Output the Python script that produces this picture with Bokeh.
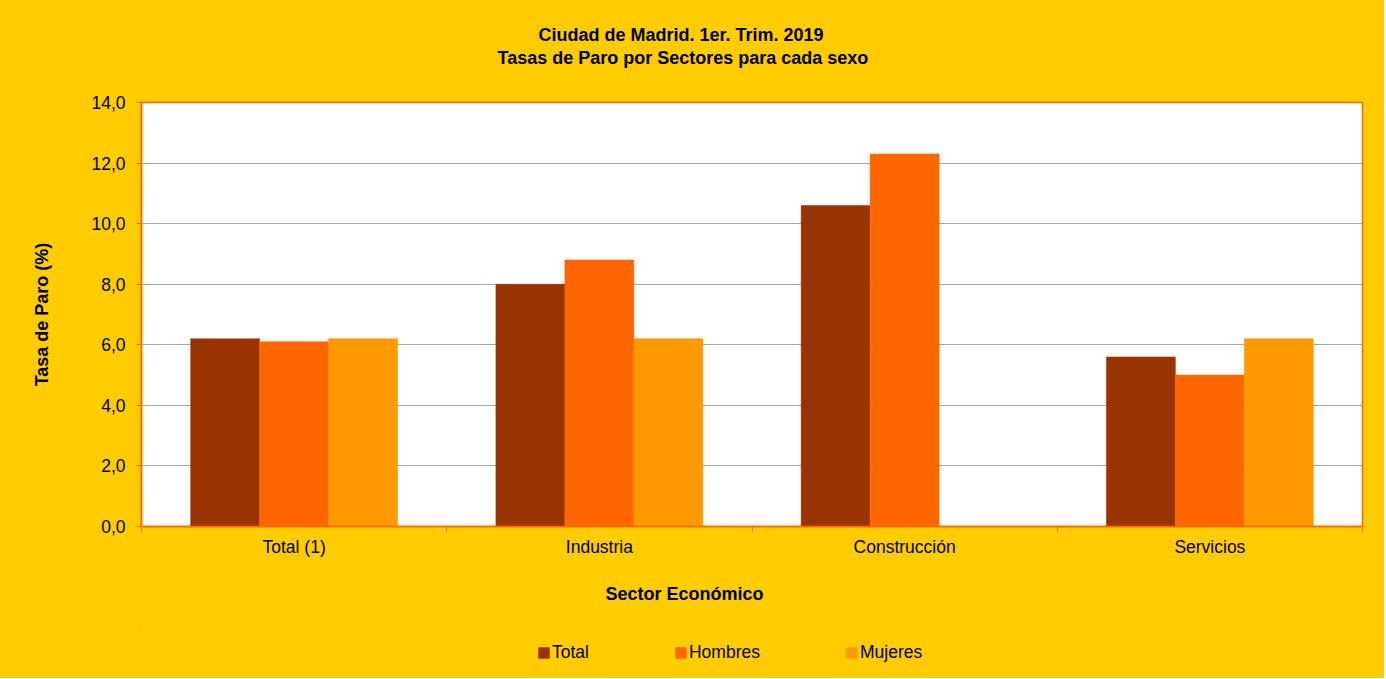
import numpy as np
from bokeh.plotting import figure
from bokeh.layouts import column
from bokeh.models import (ColumnDataSource, FixedTicker, Legend, LegendItem, Range1d, Title)
from bokeh.embed import file_html
from bokeh.resources import INLINE

# ---- data ----
categories = ["Total (1)", "Industria", "Construcción", "Servicios"]
series_names = ["Total", "Hombres", "Mujeres"]
total = [6.2, 8.0, 10.6, 5.6]
hombres = [6.1, 8.8, 12.3, 5.0]
mujeres = [6.2, 6.2, float("nan"), 6.2]
colors = ["#993300", "#FF6600", "#FF9900"]
y_ticks = [0, 2, 4, 6, 8, 10, 12, 14]
title_lines = ["Ciudad de Madrid. 1er. Trim. 2019", "Tasas de Paro por Sectores para cada sexo"]
x_title = "Sector Económico"
y_title = "Tasa de Paro (%)"

FONT = "Liberation Sans"
BG = "#FFCC00"
ORANGE = "#FF6600"
FS = "17.5px"
FS_B = "18px"

W = 1384
p = figure(width=W, height=630, output_backend="svg", toolbar_location=None, title=None,
           x_range=Range1d(0, len(categories)), y_range=Range1d(0, 14),
           min_border_left=141, min_border_right=22, min_border_top=102, min_border_bottom=104)
p.background_fill_color = "white"
p.border_fill_color = BG
p.outline_line_color = ORANGE
p.outline_line_width = 1.5

centers = np.arange(len(categories)) + 0.5
bar_w = 0.226
series = [total, hombres, mujeres]
sources = []
for k, (name, vals, col) in enumerate(zip(series_names, series, colors)):
    src = ColumnDataSource(dict(x=centers + (k - 1) * bar_w, top=vals))
    sources.append(src)
    p.vbar(x="x", top="top", width=bar_w, bottom=0, source=src,
           fill_color=col, line_color=col, line_width=0.5)

# x axis: labels at category centers, small ticks at category boundaries
xax = p.xaxis[0]
xax.ticker = FixedTicker(ticks=list(centers), minor_ticks=list(np.arange(len(categories) + 1)))
xax.major_label_overrides = {float(c): lab for c, lab in zip(centers, categories)}
xax.major_tick_line_color = None
xax.major_tick_out = 0
xax.major_tick_in = 0
xax.minor_tick_line_color = ORANGE
xax.minor_tick_out = 5
xax.minor_tick_in = 0
xax.axis_line_color = ORANGE
xax.axis_line_width = 1.5
xax.major_label_standoff = 5
xax.major_label_text_font = FONT
xax.major_label_text_font_size = FS
xax.major_label_text_color = "black"

yax = p.yaxis[0]
yax.ticker = FixedTicker(ticks=y_ticks)
yax.major_label_overrides = {t: f"{t:.1f}".replace(".", ",") for t in y_ticks}
yax.major_tick_line_color = ORANGE
yax.major_tick_out = 5
yax.major_tick_in = 0
yax.minor_tick_line_color = None
yax.axis_line_color = ORANGE
yax.axis_line_width = 1.5
yax.major_label_standoff = 11
yax.major_label_text_font = FONT
yax.major_label_text_font_size = FS
yax.major_label_text_color = "black"
yax.axis_label = y_title
yax.axis_label_standoff = 36
yax.axis_label_text_font = FONT
yax.axis_label_text_font_size = FS_B
yax.axis_label_text_font_style = "bold"
yax.axis_label_text_color = "black"

p.xgrid.grid_line_color = None
p.ygrid.grid_line_color = "#A6A6A6"
p.ygrid.grid_line_width = 1

def make_title(text, offset, standoff):
    return Title(text=text, align="left", offset=offset, standoff=standoff,
                 text_font=FONT, text_font_size=FS_B, text_font_style="bold",
                 text_color="black")

# above: spacer, line 2, then line 1 (stacked outward from the frame)
p.add_layout(make_title(" ", 0, 13), "above")
p.add_layout(make_title(title_lines[1], 356, 0), "above")
p.add_layout(make_title(title_lines[0], 397, 2), "above")
# below: x-axis title
p.add_layout(make_title(x_title, 464, 44), "below")

# legend strip (separate small figure so the legend is not clipped);
# its bars share the data but lie far outside its ranges, so only the legend shows
q = figure(width=W, height=48, output_backend="svg", toolbar_location=None, title=None,
           x_axis_type=None, y_axis_type=None, x_range=Range1d(1000, 1004),
           y_range=Range1d(-2000, -1999), min_border=0)
q.background_fill_alpha = 0
q.border_fill_color = BG
q.outline_line_color = None
items = []
for name, col, src in zip(series_names, colors, sources):
    r = q.vbar(x="x", top="top", width=bar_w, bottom=0, source=src,
               fill_color=col, line_color=col)
    items.append(LegendItem(label=name, renderers=[r]))
legend = Legend(items=items, orientation="horizontal", location=(396, 15))
legend.background_fill_alpha = 0
legend.border_line_color = None
legend.padding = 0
legend.margin = 0
legend.spacing = 85
legend.glyph_width = 13
legend.glyph_height = 13
legend.label_standoff = 2
legend.label_height = 13
legend.label_text_font = FONT
legend.label_text_font_size = FS
legend.label_text_color = "black"
legend.label_text_baseline = "middle"
q.add_layout(legend)

layout = column(p, q, spacing=0, styles={"background-color": BG})
open("out.html", "w").write(file_html(layout, INLINE))
